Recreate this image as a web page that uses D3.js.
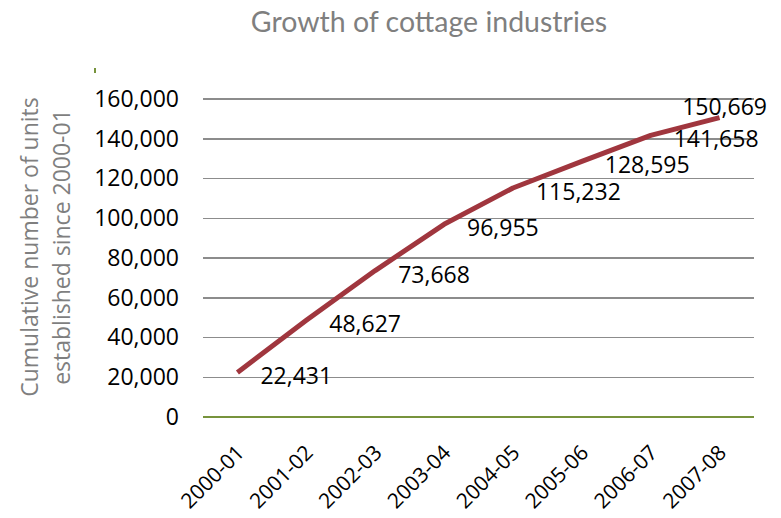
<!DOCTYPE html>
<html>
<head>
<meta charset="utf-8">
<script src="https://cdn.jsdelivr.net/npm/d3@7"></script>
<style>
  body { margin: 0; background: #fff; }
  text { font-family: "Open Sans", sans-serif; }
</style>
</head>
<body>
<svg id="chart" width="781" height="518"></svg>
<script>
var years = ["2000-01", "2001-02", "2002-03", "2003-04", "2004-05", "2005-06", "2006-07", "2007-08"];
var units = [22431, 48627, 73668, 96955, 115232, 128595, 141658, 150669];
var y_ticks = [0, 20000, 40000, 60000, 80000, 100000, 120000, 140000, 160000];
var title_txt = "Growth of cottage industries";
var y_title_lines = ["Cumulative number of units", "established since 2000-01"];

var svg = d3.select("#chart");
var left = 203, right = 754, top_y = 99, bottom = 417;

var x = d3.scaleBand().domain(years).range([left, right]);
var y = d3.scaleLinear().domain([0, 160000]).range([bottom, top_y]);
var fmt = d3.format(",");

// title
svg.append("text").attr("x", 429).attr("y", 32)
   .attr("text-anchor", "middle").attr("fill", "#7f7f7f")
   .style("font-family", "Lato, sans-serif").style("font-size", "28.5px")
   .text(title_txt);

// gridlines
svg.append("g").selectAll("line.grid").data(y_ticks.filter(function(d) { return d > 0; }))
   .enter().append("line").attr("class", "grid")
   .attr("x1", left).attr("x2", right)
   .attr("y1", function(d) { return y(d); }).attr("y2", function(d) { return y(d); })
   .attr("stroke", "#8c8c8c").attr("stroke-width", 1.5)
   .style("shape-rendering", "crispEdges");

// x axis line (green)
svg.append("line").attr("x1", left).attr("x2", right)
   .attr("y1", y(0)).attr("y2", y(0))
   .attr("stroke", "#77933c").attr("stroke-width", 2);
// small green stub at the top of the value axis
svg.append("line").attr("x1", 95).attr("x2", 95).attr("y1", 68).attr("y2", 73)
   .attr("stroke", "#77933c").attr("stroke-width", 2);

// y tick labels
var yAxis = d3.axisLeft(y).tickValues(y_ticks).tickFormat(fmt).tickSize(0).tickPadding(0);
var gy = svg.append("g").attr("transform", "translate(179,0)").call(yAxis);
gy.select(".domain").remove();
gy.selectAll("text").style("font-size", "23px").attr("fill", "#000")
   .style("font-family", "'Open Sans', sans-serif");

// x tick labels
var xAxis = d3.axisBottom(x).tickSize(0).tickPadding(0);
var gx = svg.append("g").attr("transform", "translate(0," + bottom + ")").call(xAxis);
gx.select(".domain").remove();
gx.selectAll("text")
   .style("font-size", "21px").attr("fill", "#000")
   .style("font-family", "'Open Sans', sans-serif")
   .attr("text-anchor", "end")
   .attr("dy", 0).attr("y", 0)
   .attr("transform", "translate(8,37) rotate(-45)");

// y title
svg.append("g").attr("transform", "translate(38,247) rotate(-90)")
   .selectAll("text").data(y_title_lines).enter().append("text")
   .attr("x", 0).attr("y", function(d, i) { return i * 32; })
   .attr("text-anchor", "middle").attr("fill", "#7f7f7f")
   .style("font-size", "23px")
   .text(function(d) { return d; });

// line
var pts = years.map(function(d, i) { return { year: d, value: units[i] }; });
var line = d3.line()
   .x(function(d) { return x(d.year) + x.bandwidth() / 2; })
   .y(function(d) { return y(d.value); });
svg.append("path").datum(pts).attr("d", line)
   .attr("fill", "none").attr("stroke", "#a0363e").attr("stroke-width", 5)
   .attr("stroke-linejoin", "round");

// data labels: right of each point, the last one above it
var last = pts.length - 1;
svg.append("g").selectAll("text.lbl").data(pts).enter().append("text").attr("class", "lbl")
   .attr("x", function(d, i) { return x(d.year) + x.bandwidth() / 2 + (i == last ? 5 : 23); })
   .attr("y", function(d, i) { return y(d.value) + (i == last ? -3 : 12); })
   .attr("text-anchor", function(d, i) { return i == last ? "middle" : "start"; })
   .attr("fill", "#000").style("font-size", "23px")
   .text(function(d) { return fmt(d.value); });
</script>
</body>
</html>
